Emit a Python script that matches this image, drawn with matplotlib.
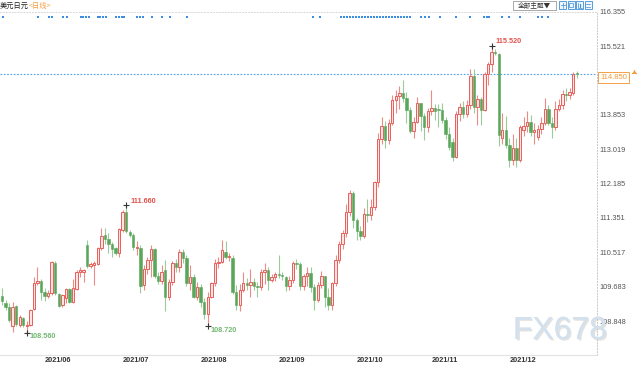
import matplotlib
matplotlib.use('Agg')
import matplotlib.pyplot as plt
import matplotlib.patches as mpatches
import matplotlib.patheffects as pe
from matplotlib.transforms import blended_transform_factory
import numpy as np

# ---------------- data (USD/JPY daily, 2021-05-14 .. 2021-12-28) ----------------
opens = [109.45, 109.29, 109.18, 108.72, 109.21, 108.75, 108.93, 108.72, 108.75, 109.13,
         109.78, 109.82, 109.56, 109.45, 109.52, 110.26, 109.50, 109.24, 109.40, 109.62,
         109.32, 109.62, 110.04, 110.05, 110.69, 110.18, 110.22, 110.23, 110.61, 110.94,
         110.83, 110.73, 110.61, 110.51, 111.07, 111.50, 111.02, 110.94, 110.63, 110.63,
         109.72, 110.10, 110.34, 110.59, 109.94, 109.83, 110.09, 109.44, 109.80, 110.26,
         110.16, 110.53, 110.37, 109.76, 109.92, 109.44, 109.68, 109.32, 109.03, 109.44,
         109.76, 110.25, 110.29, 110.53, 110.41, 110.37, 109.56, 109.24, 109.60, 109.76,
         109.72, 109.79, 109.70, 109.68, 110.05, 110.09, 109.84, 109.91, 110.00, 109.97,
         109.91, 109.69, 109.84, 110.26, 110.24, 109.71, 109.93, 110.02, 109.68, 109.37,
         109.72, 109.93, 109.42, 109.23, 109.77, 110.33, 110.73, 110.99, 111.49, 111.96,
         111.29, 111.04, 110.92, 111.44, 111.42, 111.62, 112.22, 113.28, 113.59, 113.24,
         113.67, 114.21, 114.31, 114.38, 114.27, 113.98, 113.47, 113.69, 114.14, 113.82,
         113.57, 113.95, 114.02, 114.00, 113.97, 113.74, 113.40, 113.20, 112.84, 113.87,
         114.04, 113.87, 114.09, 114.80, 114.05, 114.23, 113.97, 114.85, 115.10, 115.39,
         115.33, 113.30, 113.50, 113.12, 112.77, 113.06, 112.77, 113.50, 113.58, 113.68,
         113.45, 113.31, 113.51, 113.65, 114.01, 113.65, 113.57, 114.01, 114.09, 114.37,
         114.33, 114.38, 114.86]
highs = [109.64, 109.36, 109.28, 109.32, 109.24, 108.99, 108.95, 108.86, 109.15, 109.91,
         110.17, 109.88, 109.64, 109.60, 110.31, 110.31, 109.52, 109.50, 109.64, 109.66,
         109.86, 110.09, 110.15, 110.12, 110.81, 110.29, 110.30, 110.65, 111.10, 111.10,
         110.98, 110.77, 110.65, 111.10, 111.54, 111.66, 111.06, 110.98, 110.80, 110.70,
         110.20, 110.40, 110.70, 110.62, 110.05, 110.20, 110.33, 109.86, 110.30, 110.35,
         110.59, 110.60, 110.45, 110.20, 110.00, 109.80, 109.75, 109.40, 109.55, 109.80,
         110.36, 110.40, 110.81, 110.80, 110.50, 110.45, 109.73, 109.75, 110.05, 109.90,
         110.10, 109.90, 109.80, 110.12, 110.25, 110.15, 110.00, 110.04, 110.45, 110.05,
         109.95, 109.95, 110.30, 110.35, 110.28, 110.00, 110.16, 110.15, 109.75, 109.80,
         110.07, 109.95, 109.65, 109.80, 110.45, 110.80, 111.07, 111.68, 112.04, 112.00,
         111.35, 111.15, 111.60, 111.80, 111.80, 112.25, 113.42, 113.80, 113.70, 113.75,
         114.33, 114.45, 114.56, 114.70, 114.40, 114.05, 113.80, 114.30, 114.15, 113.90,
         114.03, 114.45, 114.13, 114.12, 114.15, 113.80, 113.55, 113.30, 113.95, 114.15,
         114.20, 114.22, 114.97, 114.96, 114.35, 114.28, 114.90, 115.15, 115.52, 115.45,
         115.37, 113.90, 113.82, 113.30, 113.40, 113.30, 113.60, 113.80, 113.95, 113.85,
         113.65, 113.62, 113.80, 114.26, 114.10, 113.80, 114.20, 114.25, 114.46, 114.52,
         114.50, 114.90, 114.93]
lows = [109.24, 109.11, 108.83, 108.57, 108.73, 108.71, 108.71, 108.56, 108.73, 109.11,
        109.72, 109.36, 109.33, 109.40, 109.48, 109.48, 109.18, 109.20, 109.28, 109.28,
        109.28, 109.60, 109.92, 109.80, 110.13, 110.13, 109.72, 110.21, 110.57, 110.73,
        110.49, 110.41, 110.45, 110.41, 111.02, 110.99, 110.90, 110.57, 110.45, 109.54,
        109.60, 110.00, 109.92, 109.90, 109.75, 109.75, 109.08, 109.35, 109.72, 110.05,
        110.05, 110.25, 109.70, 109.60, 109.40, 109.35, 109.20, 108.90, 108.72, 109.40,
        109.70, 110.13, 110.25, 110.35, 110.30, 109.50, 109.12, 109.10, 109.55, 109.60,
        109.44, 109.60, 109.44, 109.60, 109.75, 109.60, 109.80, 109.82, 109.90, 109.85,
        109.58, 109.60, 109.78, 110.10, 109.60, 109.60, 109.70, 109.55, 109.11, 109.30,
        109.65, 109.20, 109.11, 109.12, 109.70, 110.25, 110.60, 110.90, 111.40, 111.10,
        110.82, 110.82, 110.87, 111.25, 111.30, 111.55, 112.10, 113.15, 113.05, 113.15,
        113.60, 113.90, 114.00, 114.18, 113.65, 113.41, 113.30, 113.65, 113.47, 113.25,
        113.45, 113.85, 113.73, 113.55, 113.65, 113.28, 113.00, 112.73, 112.80, 113.70,
        113.78, 113.80, 114.00, 113.90, 113.60, 113.60, 113.95, 114.58, 114.90, 115.30,
        113.10, 113.15, 113.04, 112.59, 112.65, 112.58, 112.70, 113.35, 113.45, 113.35,
        113.15, 113.25, 113.40, 113.60, 113.60, 113.30, 113.50, 113.95, 114.00, 114.20,
        114.25, 114.33, 114.76]
closes = [109.33, 109.20, 108.87, 109.18, 108.78, 108.94, 108.75, 108.76, 109.11, 109.78,
          109.83, 109.56, 109.45, 109.53, 110.29, 109.52, 109.22, 109.48, 109.62, 109.32,
          109.66, 110.05, 110.09, 110.09, 110.18, 110.23, 110.25, 110.61, 110.91, 110.85,
          110.72, 110.59, 110.51, 111.08, 111.50, 111.04, 110.94, 110.65, 110.64, 109.70,
          110.10, 110.34, 110.59, 109.94, 109.83, 110.05, 109.44, 109.80, 110.26, 110.16,
          110.53, 110.37, 109.76, 109.92, 109.44, 109.68, 109.32, 109.03, 109.44, 109.76,
          110.25, 110.29, 110.57, 110.41, 110.43, 109.56, 109.24, 109.60, 109.76, 109.72,
          109.79, 109.70, 109.68, 110.05, 110.09, 109.84, 109.91, 109.99, 109.97, 109.93,
          109.69, 109.84, 110.25, 110.24, 109.71, 109.93, 110.02, 109.68, 109.37, 109.72,
          109.93, 109.42, 109.23, 109.77, 110.33, 110.73, 110.99, 111.49, 111.96, 111.29,
          111.04, 110.92, 111.44, 111.42, 111.62, 112.22, 113.28, 113.59, 113.24, 113.67,
          114.21, 114.31, 114.38, 114.27, 113.98, 113.47, 113.69, 114.14, 113.82, 113.57,
          113.95, 114.02, 113.96, 113.97, 113.74, 113.40, 113.08, 112.84, 113.87, 114.04,
          113.87, 114.09, 114.80, 114.05, 114.23, 113.97, 114.85, 115.10, 115.39, 115.35,
          113.36, 113.50, 113.12, 112.77, 113.06, 112.77, 113.57, 113.58, 113.68, 113.45,
          113.49, 113.51, 113.67, 114.01, 113.65, 113.57, 114.01, 114.09, 114.37, 114.33,
          114.40, 114.84, 114.85]

month_labels = ['2021/06', '2021/07', '2021/08', '2021/09', '2021/10', '2021/11', '2021/12']
month_start_idx = [12, 34, 56, 78, 100, 121, 143]

ytick_values = [116.355, 115.521, 113.853, 113.019, 112.185, 111.351, 110.517, 109.683, 108.848]
last_price = 114.850

event_pos = [0.2, 10.2, 13.3, 14.2, 17.1, 18.2, 22.2, 22.9, 23.7, 24.5, 27.0, 27.7, 28.6, 29.3,
             32.1, 32.9, 33.7, 34.5, 38.0, 38.9, 39.8, 42.2, 45.2, 47.4, 52.1,
             87.7, 89.6, 95.5, 96.4, 97.2, 98.1, 98.9, 99.8, 100.6, 101.4, 102.3, 103.1, 104.0,
             104.8, 105.7, 106.5, 107.4, 108.2, 109.0, 109.9, 110.7, 111.6, 112.4, 113.3, 114.1,
             115.0, 118.1, 119.2, 120.3, 123.4, 128.0, 131.9,
             135.9, 136.6, 137.3, 140.8, 143.0, 146.0, 151.1, 152.1, 154.0]

# ---------------- figure ----------------
W, H = 640, 366
fig = plt.figure(figsize=(6.4, 3.66), dpi=100)
fig.patch.set_facecolor('white')


def fy(py):
    return 1 - py / H


NUM_FONT = ['Liberation Sans', 'DejaVu Sans']
CJK_FONT = ['Noto Sans CJK SC', 'DejaVu Sans']

ax = fig.add_axes([0, fy(355), 597 / W, fy(12) - fy(355)])
ax.set_facecolor('white')

o = np.array(opens); h = np.array(highs); l = np.array(lows); c = np.array(closes)
idx = np.arange(len(c))
up = c >= o

UP_EDGE = '#e5605c'
UP_FILL = '#fde3e1'
UP_WICK = '#ee8a86'
DN_BODY = '#5aa65a'
DN_WICK = '#98cc98'

ax.vlines(idx[up], l[up], h[up], colors=UP_WICK, lw=0.8, zorder=2)
ax.vlines(idx[~up], l[~up], h[~up], colors=DN_WICK, lw=0.8, zorder=2)

bw = 0.68
hgt_up = np.maximum(c[up] - o[up], 0.012)
hgt_dn = np.maximum(o[~up] - c[~up], 0.012)
ax.bar(idx[up], hgt_up, bottom=o[up], width=bw, color=UP_FILL, edgecolor=UP_EDGE,
       linewidth=0.7, zorder=3)
ax.bar(idx[~up], hgt_dn, bottom=c[~up], width=bw, color=DN_BODY, edgecolor=DN_BODY,
       linewidth=0.4, zorder=3)

ax.set_xlim(-0.564, 167.7)
ax.set_ylim(108.022, 116.355)

# last price line
ax.axhline(last_price, color='#4da3f0', lw=0.8, ls=(0, (1.5, 1.5)), zorder=1)

# extremes
hi_idx = int(np.argmax(h))
lo_idx = int(np.argmin(l))
loc_hi_idx = int(np.argmax(h[:80]))
loc_lo_idx = int(np.argmin(l[40:80])) + 40
RED_T = '#e0524c'
GRN_T = '#72b872'
for i, col, off in [(hi_idx, RED_T, (4, 5)), (loc_hi_idx, RED_T, (4, 4))]:
    ax.plot(idx[i], h[i], marker='+', ms=4, mew=0.8, color='#333333', zorder=5)
    ax.annotate(f'{h[i]:.3f}', (idx[i], h[i]), xytext=off, textcoords='offset pixels',
                ha='left', va='center', fontsize=5.2, color=col, family=NUM_FONT,
                fontweight='bold')
for i, col, off in [(lo_idx, GRN_T, (3, -4)), (loc_lo_idx, GRN_T, (3, -4))]:
    ax.plot(idx[i], l[i], marker='+', ms=4, mew=0.8, color='#333333', zorder=5)
    ax.annotate(f'{l[i]:.3f}', (idx[i], l[i]), xytext=off, textcoords='offset pixels',
                ha='left', va='center', fontsize=5.2, color=col, family=NUM_FONT,
                fontweight='bold')

# y axis on the right
ax.yaxis.tick_right()
ax.set_yticks(ytick_values)
ax.set_yticklabels([f'{v:.3f}' for v in ytick_values], family=NUM_FONT)
ax.tick_params(axis='y', length=0, pad=1.5, labelsize=5.3, labelcolor='#555555')
ax.set_xticks([])

ax.spines['left'].set_visible(False)
ax.spines['right'].set_color('#c8c8c8')
ax.spines['right'].set_linestyle((0, (1, 2)))
ax.spines['right'].set_linewidth(0.7)
ax.spines['top'].set_color('#d8d8d8')
ax.spines['top'].set_linestyle((0, (1, 2)))
ax.spines['top'].set_linewidth(0.7)
ax.spines['bottom'].set_color('#e2e2e2')
ax.spines['bottom'].set_linewidth(0.8)

# month labels
tr = blended_transform_factory(ax.transData, ax.transAxes)
axh_px = 355 - 12
for mi, ml in zip(month_start_idx, month_labels):
    ax.text(mi + 0.1, -5.5 / axh_px, ml, transform=tr, ha='left', va='center',
            fontsize=5.3, fontweight='bold', color='#333333', family=NUM_FONT)

# event dots row
ax.plot(event_pos, [1 - 5 / axh_px] * len(event_pos), ls='none', marker='s', ms=1.7,
        mew=0, color='#3a8de0', transform=tr, clip_on=False, zorder=4)

# last price box
trp = blended_transform_factory(ax.transAxes, ax.transData)
ax.text(1.0 + 3 / 597, last_price, f'{last_price:.3f}', transform=trp, ha='left', va='top',
        fontsize=5.5, color='#f39a3a', family=NUM_FONT,
        bbox=dict(boxstyle='square,pad=0.25', fc='white', ec='#f3a04a', lw=0.7),
        clip_on=False, zorder=6)

# ---------------- overlay (decorations in pixel space) ----------------
ov = fig.add_axes([0, 0, 1, 1], facecolor='none')
ov.set_xlim(0, W)
ov.set_ylim(H, 0)
ov.axis('off')
ov.set_zorder(10)

ov.text(0, 6, '美元日元', ha='left', va='center', fontsize=5.2, color='#222222', family=CJK_FONT)
ov.text(29, 6, '<日线>', ha='left', va='center', fontsize=5.2, color='#f0a040', family=CJK_FONT)

# theme button
ov.add_patch(mpatches.Rectangle((513, 1), 43, 9, fc='white', ec='#9a9a9a', lw=0.6))
ov.text(534.5, 5.6, '全部主题▼', ha='center', va='center', fontsize=4.8, color='#333333',
        family=CJK_FONT)
# icon buttons
for x0 in [559, 567.5, 576, 584.5]:
    ov.add_patch(mpatches.Rectangle((x0, 1), 7, 8, fc='#eef5fc', ec='#3d8fd8', lw=0.6))
ov.plot([562.5, 562.5], [2.5, 7.5], color='#3d8fd8', lw=0.5)
ov.plot([560.5, 564.5], [5, 5], color='#3d8fd8', lw=0.5)
ov.add_patch(mpatches.Rectangle((569, 3), 4, 4, fc='none', ec='#3d8fd8', lw=0.5))
ov.plot([578, 578, 581.5], [2.5, 7.5, 7.5], color='#3d8fd8', lw=0.5)
ov.plot([579.5, 579.5], [4, 7], color='#3d8fd8', lw=0.8)
ov.plot([586, 590], [4, 4], color='#3d8fd8', lw=0.5)
ov.plot([586, 590], [6.5, 6.5], color='#3d8fd8', lw=0.5)

# orange marker near price box
ov.plot([633.5], [70.5], marker='^', ms=2.6, color='#f39a3a', mew=0)
ov.plot([631.5, 635.5], [73, 73], color='#f39a3a', lw=0.8)

# watermark
ov.text(560, 331, 'FX678', ha='center', va='center', fontsize=23, color='#d3e1ef',
        family=NUM_FONT,
        path_effects=[pe.withSimplePatchShadow(offset=(1, -1), shadow_rgbFace='#b8ada0',
                                               alpha=0.35), pe.Normal()])

fig.savefig('out.png', dpi=100, facecolor='white')
